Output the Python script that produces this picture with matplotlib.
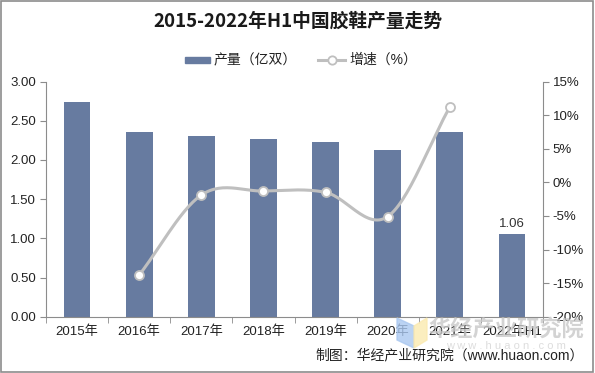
import numpy as np
import matplotlib.pyplot as plt
from matplotlib.patches import Rectangle, Polygon

plt.rcParams['font.family'] = ['Liberation Sans', 'Noto Sans CJK SC', 'DejaVu Sans']

years = ['2015年', '2016年', '2017年', '2018年', '2019年', '2020年', '2021年', '2022年H1']
output = [2.74, 2.36, 2.31, 2.27, 2.23, 2.12, 2.35, 1.06]
growth_years = ['2016年', '2017年', '2018年', '2019年', '2020年', '2021年']
growth = [-13.8, -1.9, -1.3, -1.5, -5.1, 11.2]

W, H = 595, 373
fig = plt.figure(figsize=(W / 100, H / 100), dpi=100)
fig.patches.append(Rectangle((0.002, 0.003), 0.995, 0.994, transform=fig.transFigure,
                             fill=False, edgecolor='#8c8c8c', linewidth=1.2))

ax = fig.add_axes([46 / W, (H - 316.7) / H, (543 - 46) / W, (316.7 - 81.5) / H])
x = np.arange(len(years))
ax.bar(x, output, width=0.43, color='#677ba0', zorder=2, label='产量（亿双）')
ax.set_xlim(-0.5, len(years) - 0.5)
ax.set_ylim(0, 3)
ax.set_yticks(np.arange(0, 3.01, 0.5))
ax.set_yticklabels(['%.2f' % v for v in np.arange(0, 3.01, 0.5)])
ax.set_xticks(x)
ax.set_xticklabels(years)
ax.set_xticks(np.arange(-0.5, len(years)), minor=True)
ax.tick_params(axis='x', which='major', length=0, pad=6, labelsize=9.5, colors='#222222')
ax.tick_params(axis='x', which='minor', length=4, color='#8c8c8c')
ax.tick_params(axis='y', length=4, color='#8c8c8c', labelsize=9.5, labelcolor='#222222', pad=3)
for s in ['top', 'right']:
    ax.spines[s].set_visible(False)
for s in ['left', 'bottom']:
    ax.spines[s].set_color('#8c8c8c')

ax.text(x[-1], output[-1] + 0.05, '%.2f' % output[-1], ha='center', va='bottom',
        fontsize=9.5, color='#333333')

ax2 = ax.twinx()
ax2.set_ylim(-20, 15)
ax2.set_yticks(np.arange(-20, 16, 5))
ax2.set_yticklabels(['%d%%' % v for v in np.arange(-20, 16, 5)])
ax2.tick_params(axis='y', length=4, color='#8c8c8c', labelsize=9.5, labelcolor='#222222', pad=3)
for s in ['top', 'left', 'bottom']:
    ax2.spines[s].set_visible(False)
ax2.spines['right'].set_color('#8c8c8c')

# smooth curve through the growth points (Catmull-Rom)
gx = np.array([years.index(g) for g in growth_years], dtype=float)
gy = np.array(growth, dtype=float)
px = np.concatenate([[2 * gx[0] - gx[1]], gx, [2 * gx[-1] - gx[-2]]])
py = np.concatenate([[2 * gy[0] - gy[1]], gy, [2 * gy[-1] - gy[-2]]])
cx, cy = [], []
t = np.linspace(0, 1, 30)
for i in range(1, len(px) - 2):
    for arr, out in ((px, cx), (py, cy)):
        p0, p1, p2, p3 = arr[i - 1], arr[i], arr[i + 1], arr[i + 2]
        out.extend(0.5 * ((2 * p1) + (-p0 + p2) * t + (2 * p0 - 5 * p1 + 4 * p2 - p3) * t ** 2
                          + (-p0 + 3 * p1 - 3 * p2 + p3) * t ** 3))
ax2.plot(cx, cy, color='#bfbfbf', linewidth=2.2, zorder=3)
ax2.plot(gx, gy, linestyle='none', marker='o', markersize=6.5, markerfacecolor='white',
         markeredgecolor='#bfbfbf', markeredgewidth=1.3, zorder=4)

fig.text(0.5, (H - 21) / H, '2015-2022年H1中国胶鞋产量走势', ha='center', va='center',
         fontsize=13.5, fontweight='bold', color='#1a1a1a', family=['Noto Sans CJK SC'])

# legend
ly = (H - 60) / H
fig.patches.append(Rectangle((185 / W, (H - 63) / H), 25 / W, 6 / H, transform=fig.transFigure,
                             color='#677ba0'))
fig.text(214 / W, ly, '产量（亿双）', ha='left', va='center', fontsize=10, color='#222222')
fig.lines.append(plt.Line2D([318 / W, 345 / W], [ly, ly], transform=fig.transFigure,
                            color='#bfbfbf', linewidth=2.2))
fig.lines.append(plt.Line2D([331.5 / W], [ly], transform=fig.transFigure, marker='o',
                            markersize=6, markerfacecolor='white', markeredgecolor='#bfbfbf',
                            markeredgewidth=1.3))
fig.text(349 / W, ly, '增速（%）', ha='left', va='center', fontsize=10, color='#222222')

# watermark
fig.patches.append(Polygon([(397 / W, (H - 318) / H), (414 / W, (H - 326) / H),
                            (414 / W, (H - 348) / H), (397 / W, (H - 340) / H)],
                           transform=fig.transFigure, color='#aac8f0', alpha=0.8, zorder=0.5))
fig.patches.append(Polygon([(414 / W, (H - 326) / H), (427 / W, (H - 318) / H),
                            (427 / W, (H - 340) / H), (414 / W, (H - 348) / H)],
                           transform=fig.transFigure, color='#fbeab0', alpha=0.8, zorder=0.5))
fig.text(506 / W, (H - 330) / H, '华经产业研究院', ha='center', va='center', fontsize=16,
         color='#c8c8c8', alpha=0.8, fontweight='bold', zorder=0.5)
fig.text(506 / W, (H - 346) / H, 'w w w . h u a o n . c o m', ha='center', va='center',
         fontsize=8, color='#d5d5d5', alpha=0.8, zorder=0.5)

fig.text(584 / W, (H - 355) / H, '制图：华经产业研究院（www.huaon.com）', ha='right', va='center',
         fontsize=10, color='#222222')

fig.savefig('out.png', dpi=100)
